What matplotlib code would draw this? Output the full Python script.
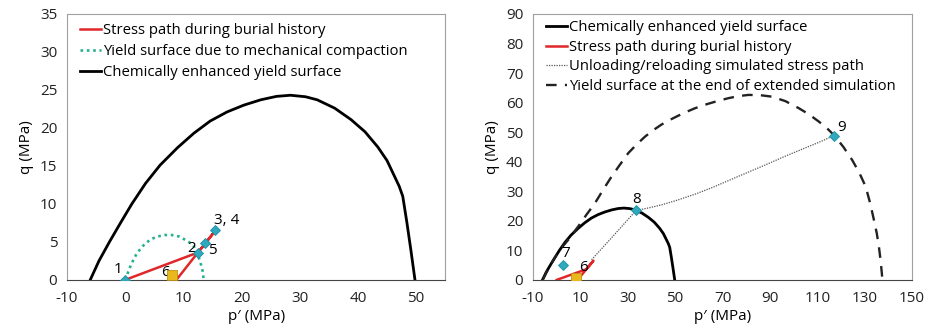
import matplotlib.pyplot as plt

plt.rcParams['font.family'] = ['Open Sans', 'DejaVu Sans']
plt.rcParams['font.size'] = 11
plt.rcParams['axes.unicode_minus'] = False

# chemically enhanced yield surface
chem_p = [-6, -4.5, -2.7, -0.8, 1.15, 3.5, 6.0, 9.0, 11.8, 14.6, 17.5, 20.4, 23.3, 26.0, 28.4, 31.0,
          33.0, 36.0, 38.8, 41.2, 43.4, 45.0, 46.3, 47.1, 47.7, 48.4, 49.1, 49.8]
chem_q = [0, 2.5, 5.0, 7.5, 10.0, 12.7, 15.1, 17.4, 19.3, 20.9, 22.1, 23.0, 23.7, 24.15, 24.3, 24.1,
          23.7, 22.6, 21.1, 19.5, 17.5, 15.7, 13.6, 12.3, 11.0, 7.6, 3.9, 0]

# yield surface due to mechanical compaction
mech_p = [0, 1.0, 2.0, 3.1, 4.3, 5.5, 6.8, 8.05, 9.3, 10.5, 11.3, 11.8, 12.4, 12.9, 13.3, 13.5]
mech_q = [0, 2.0, 3.5, 4.5, 5.3, 5.7, 5.9, 5.9, 5.7, 5.2, 4.8, 4.4, 3.5, 2.4, 1.2, 0]

# stress path during burial history
path_p = [0, 12.5, 15.5, 13.8, 12.5, 8.8]
path_q = [0, 3.6, 6.5, 4.8, 3.6, 0]

# numbered states (left panel)
pts_p = [0, 12.5, 15.5, 13.8]
pts_q = [0, 3.6, 6.5, 4.8]
p6, q6 = 8.0, 0.7

# right panel: unloading/reloading path
unl_p = [14.7, 24.0, 33.5, 38.5, 44.3, 51.0, 58.4, 65.5, 72.5, 81.0, 89.5, 96.0, 103.5, 110.5, 117.0]
unl_q = [6.8, 15.0, 23.5, 24.3, 25.4, 27.0, 29.0, 31.2, 33.6, 36.5, 39.4, 41.7, 44.2, 46.5, 48.8]

# yield surface at the end of extended simulation
end_p = [-6, -2.7, 1.15, 4.8, 9.0, 12.5, 16.1, 19.6, 23.1, 26.7, 30.2, 33.7, 37.3, 40.8, 44.3, 47.9,
         51.4, 54.9, 58.4, 62.7, 66.9, 72.5, 76.8, 81.0, 86.0, 90.9, 96.5, 102.2, 106.5, 110.6, 114.0,
         117.0, 121.0, 124.7, 127.7, 130.4, 132.3, 133.9, 135.1, 136.0, 136.8, 137.5]
end_q = [0, 5.0, 10.0, 13.5, 18.0, 22.0, 25.9, 30.5, 34.9, 39.0, 42.9, 45.8, 48.5, 50.7, 52.6, 54.2,
         55.6, 56.9, 58.1, 59.3, 60.3, 61.5, 62.2, 62.6, 62.5, 62.0, 60.5, 58.1, 56.0, 53.6, 51.4,
         49.0, 45.0, 40.6, 36.3, 31.6, 26.0, 20.3, 15.8, 11.3, 6.0, 0]

p7, q7 = 2.7, 5.1
p8, q8 = 33.5, 23.5
p9, q9 = 117.0, 48.8

cyan = '#2fa9bd'
yellow = '#e9b81c'
spine_c = '#a0a0a0'

fig = plt.figure(figsize=(9.34, 3.32), dpi=100)
ax1 = fig.add_axes([0.0717, 0.157, 0.405, 0.801])
ax2 = fig.add_axes([0.5707, 0.157, 0.4058, 0.801])

# left panel
ax1.plot(path_p, path_q, color='#e0272a', lw=1.8, label='Stress path during burial history', zorder=3)
ax1.plot(mech_p, mech_q, color='#26b08f', lw=1.9, ls=(0, (1, 1.4)), label='Yield surface due to mechanical compaction')
ax1.plot(chem_p, chem_q, color='black', lw=2, label='Chemically enhanced yield surface')
ax1.plot(pts_p, pts_q, ls='none', marker='D', ms=5, mfc=cyan, mec='#1c8fa5', mew=0.6, zorder=4)
ax1.plot([p6], [q6], ls='none', marker='s', ms=7, mfc=yellow, mec='#c09010', mew=0.6, zorder=4)
ax1.text(-0.4, 0.4, '1', ha='right', va='bottom')
ax1.text(12.1, 3.2, '2', ha='right', va='bottom')
ax1.text(15.2, 6.8, '3, 4', ha='left', va='bottom')
ax1.text(14.3, 2.9, '5', ha='left', va='bottom')
ax1.text(7.6, 0.0, '6', ha='right', va='bottom')
ax1.set_xlim(-10, 55)
ax1.set_ylim(0, 35)
ax1.set_xticks(range(-10, 51, 10))
ax1.set_yticks(range(0, 36, 5))
ax1.set_xlabel('p\u2032 (MPa)', labelpad=2)
ax1.set_ylabel('q (MPa)', labelpad=4)
ax1.legend(loc='upper left', bbox_to_anchor=(0, 1.016), frameon=False, handlelength=1.4,
           handletextpad=0.1, borderpad=0.3, labelspacing=0.4, borderaxespad=0.6, fontsize=10.7)

# right panel
ax2.plot(chem_p, chem_q, color='black', lw=2, label='Chemically enhanced yield surface')
ax2.plot(path_p, path_q, color='#e0272a', lw=1.8, label='Stress path during burial history', zorder=3)
ax2.plot(unl_p, unl_q, color='#555555', lw=0.9, ls=(0, (1, 1)), label='Unloading/reloading simulated stress path')
ax2.plot(end_p, end_q, color='#222222', lw=1.7, ls=(0, (4.5, 3.5)), label='Yield surface at the end of extended simulation')
ax2.plot([p7, p8, p9], [q7, q8, q9], ls='none', marker='D', ms=5, mfc=cyan, mec='#1c8fa5', mew=0.6, zorder=4)
ax2.plot([p6], [q6], ls='none', marker='s', ms=7, mfc=yellow, mec='#c09010', mew=0.6, zorder=4)
ax2.text(p7 + 1, q7 + 1.2, '7', ha='center', va='bottom')
ax2.text(p6 + 1.5, q6 + 1.0, '6', ha='left', va='bottom')
ax2.text(p8, q8 + 1.0, '8', ha='center', va='bottom')
ax2.text(p9 + 1.5, q9 + 0.3, '9', ha='left', va='bottom')
ax2.set_xlim(-10, 150)
ax2.set_ylim(0, 90)
ax2.set_xticks(range(-10, 151, 20))
ax2.set_yticks(range(0, 91, 10))
ax2.set_xlabel('p\u2032 (MPa)', labelpad=2)
ax2.set_ylabel('q (MPa)', labelpad=4)
ax2.legend(loc='upper left', bbox_to_anchor=(0, 1.026), frameon=False, handlelength=1.4,
           handletextpad=0.1, borderpad=0.2, labelspacing=0.3, borderaxespad=0.7, fontsize=10.7)

for ax in (ax1, ax2):
    for s in ax.spines.values():
        s.set_color(spine_c)
        s.set_linewidth(0.8)
    ax.spines['bottom'].set_color('#444444')
    ax.tick_params(length=0, labelsize=11, colors='#222222')
    ax.tick_params(axis='x', pad=8)
    ax.tick_params(axis='y', pad=7)

fig.savefig('out.png', dpi=100)
